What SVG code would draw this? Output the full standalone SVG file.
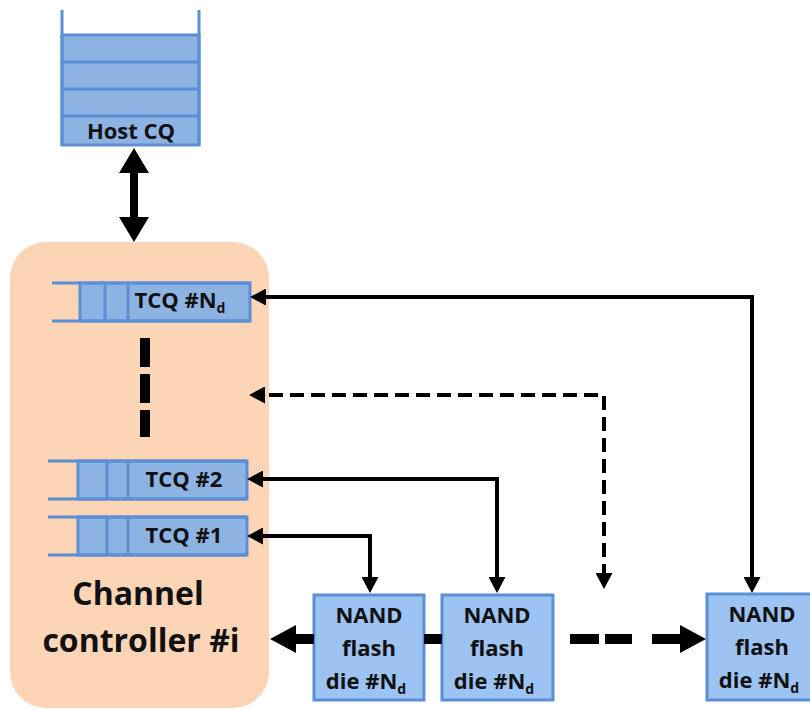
<svg xmlns="http://www.w3.org/2000/svg" width="810" height="710" viewBox="0 0 810 710">
<style>
.q{fill:#8db3e2;stroke:#5b8fd6;stroke-width:3}
.ql{fill:none;stroke:#5b8fd6;stroke-width:3}
.nand{fill:#9dc3f2;stroke:#5b8fd6;stroke-width:3}
.t{font-family:"Open Sans","Liberation Sans",sans-serif;font-weight:700;fill:#111;text-anchor:middle}
.c{fill:none;stroke:#000;stroke-width:4}
.d{stroke-dasharray:14 7}
.thick{fill:none;stroke:#000;stroke-width:10}
</style>
<defs>
<marker id="ah" markerUnits="userSpaceOnUse" markerWidth="17" markerHeight="17" refX="5" refY="8.5" orient="auto-start-reverse"><path d="M0,0 L16,8.5 L0,17 z" fill="#000"/></marker>
<marker id="ahBig" markerUnits="userSpaceOnUse" markerWidth="30" markerHeight="30" refX="5" refY="15" orient="auto-start-reverse"><path d="M0,0 L25,15 L0,30 z" fill="#000"/></marker>
<marker id="ahThick" markerUnits="userSpaceOnUse" markerWidth="28" markerHeight="28" refX="6" refY="14" orient="auto"><path d="M0,0 L26,14 L0,28 z" fill="#000"/></marker>
</defs>
<rect width="810" height="710" fill="#fff"/>

<g id="channel-controller">
<rect x="10" y="242" width="259" height="466" rx="36" fill="#fbd5b5"/>
<text class="t" font-size="32" x="138" y="605">Channel</text>
<text class="t" font-size="32" x="141" y="652">controller #i</text>
</g>

<g id="host-cq">
<rect class="q" x="62" y="35" width="137" height="110"/>
<path class="ql" d="M62,10 V145 M199,10 V145 M62,62 H199 M62,89 H199 M62,116 H199"/>
<text class="t" font-size="22" x="131" y="139">Host CQ</text>
</g>

<g id="tcq-nd">
<rect class="q" x="80" y="283" width="170" height="38"/>
<path class="ql" d="M52,283 H250 M52,321 H250 M105,283 V321 M128,283 V321"/>
<text class="t" font-size="22" x="180" y="308">TCQ #N<tspan font-size="14" dy="5">d</tspan></text>
</g>

<g id="tcq-dots">
<path d="M145,338 V437" stroke="#000" stroke-width="10" stroke-dasharray="29 7" fill="none"/>
</g>

<g id="tcq-2">
<rect class="q" x="78" y="461" width="169" height="38"/>
<path class="ql" d="M48,461 H247 M48,499 H247 M107,461 V499 M128,461 V499"/>
<text class="t" font-size="22" x="184" y="487">TCQ #2</text>
</g>

<g id="tcq-1">
<rect class="q" x="78" y="517" width="169" height="38"/>
<path class="ql" d="M48,517 H247 M48,555 H247 M107,517 V555 M128,517 V555"/>
<text class="t" font-size="22" x="184" y="543">TCQ #1</text>
</g>

<g id="nand-1">
<rect class="nand" x="314" y="595" width="110" height="105"/>
<text class="t" font-size="22" x="369" y="623">NAND</text>
<text class="t" font-size="22" x="369" y="656">flash</text>
<text class="t" font-size="22" x="366" y="689">die #N<tspan font-size="14" dy="5">d</tspan></text>
</g>

<g id="nand-2">
<rect class="nand" x="442" y="595" width="111" height="105"/>
<text class="t" font-size="22" x="497" y="623">NAND</text>
<text class="t" font-size="22" x="497" y="656">flash</text>
<text class="t" font-size="22" x="494" y="689">die #N<tspan font-size="14" dy="5">d</tspan></text>
</g>

<g id="nand-3">
<rect class="nand" x="707" y="594" width="110" height="106"/>
<text class="t" font-size="22" x="762" y="622">NAND</text>
<text class="t" font-size="22" x="762" y="655">flash</text>
<text class="t" font-size="22" x="759" y="688">die #N<tspan font-size="14" dy="5">d</tspan></text>
</g>

<g id="connectors">
<path d="M134,168 V222" stroke="#000" stroke-width="8" fill="none" marker-start="url(#ahBig)" marker-end="url(#ahBig)"/>
<path class="c" d="M752,582 V297 H261" marker-start="url(#ah)" marker-end="url(#ah)"/>
<path class="c d" d="M604,578 V395 H260" marker-start="url(#ah)" marker-end="url(#ah)"/>
<path class="c" d="M497,582 V479 H258" marker-start="url(#ah)" marker-end="url(#ah)"/>
<path class="c" d="M370,582 V536 H258" marker-start="url(#ah)" marker-end="url(#ah)"/>
<path class="thick" d="M314,639 H290" marker-end="url(#ahThick)"/>
<path class="thick" d="M424,639 H442"/>
<path class="thick" d="M570,639 H599 M605,639 H632"/>
<path class="thick" d="M652,639 H686" marker-end="url(#ahThick)"/>
</g>
</svg>
